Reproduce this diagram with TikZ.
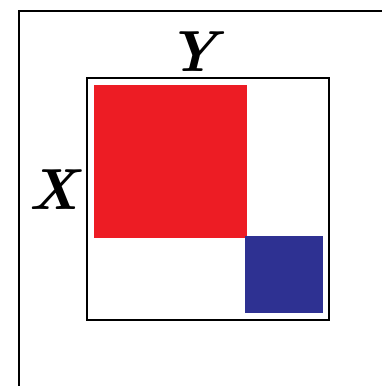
\documentclass[tikz,border=0pt]{standalone}
\begin{document}
\begin{tikzpicture}[x=1pt,y=-1pt,
  frame/.style={draw=black,line width=1.8pt},
  lbl/.style={font=\fontsize{58}{62}\selectfont\bfseries\itshape,inner sep=0pt}]
\definecolor{redsq}{HTML}{ED1C24}
\definecolor{bluesq}{HTML}{2E3192}
\useasboundingbox (0,0) rectangle (382,386);
\draw[frame] (19,390) -- (19,11) -- (390,11);
\fill[redsq] (94,85) rectangle (247,238);
\fill[bluesq] (245,236) rectangle (323,313);
\draw[frame] (87,78) rectangle (329,320);
\node[lbl] (y) at (193,52) {Y};
\node[lbl] (x) at (54,190) {X};
\end{tikzpicture}
\end{document}
